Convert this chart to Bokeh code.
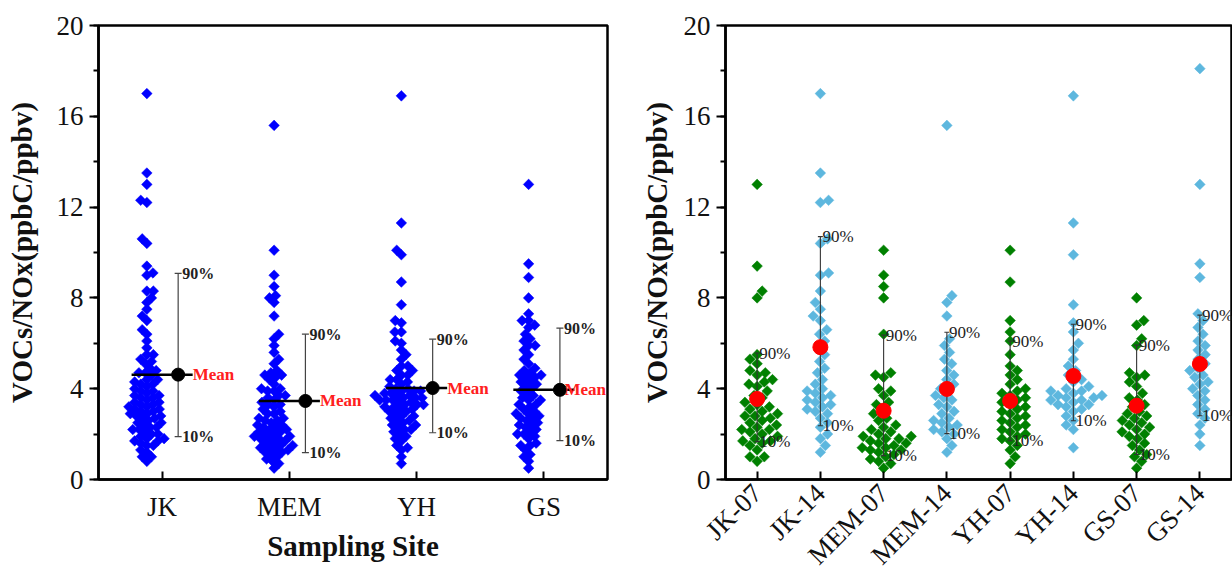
import numpy as np
from bokeh.plotting import figure
from bokeh.layouts import row
from bokeh.models import ColumnDataSource, FixedTicker, SingleIntervalTicker, Range1d
from bokeh.embed import file_html
from bokeh.resources import INLINE
from bokeh.core.properties import value

# ---------------- data ----------------
SITES = ["JK", "MEM", "YH", "GS"]
GROUPS = ["JK-07", "JK-14", "MEM-07", "MEM-14", "YH-07", "YH-14", "GS-07", "GS-14"]

JK_07 = [13.0, 9.4, 8.3, 8.0, 5.5, 5.3, 5.1, 4.8, 4.7, 4.6, 4.4, 4.3, 4.2, 4.1, 3.9, 3.7,
         3.6, 3.4, 3.3, 3.2, 3.1, 3.0, 2.9, 2.8, 2.8, 2.7, 2.6, 2.5, 2.4, 2.3, 2.2, 2.2,
         2.1, 2.0, 1.9, 1.8, 1.7, 1.7, 1.6, 1.5, 1.3, 1.0, 1.0, 0.8]
JK_14 = [17.0, 13.5, 12.3, 12.2, 10.6, 10.4, 9.1, 9.0, 8.3, 7.8, 7.5, 7.2, 7.0, 6.6, 6.4,
         6.1, 5.8, 5.5, 5.2, 4.9, 4.7, 4.4, 4.2, 4.0, 3.9, 3.8, 3.7, 3.6, 3.5, 3.4, 3.3,
         3.2, 3.1, 3.0, 2.9, 2.7, 2.5, 2.3, 2.0, 1.8, 1.5, 1.2]
MEM_07 = [10.1, 9.0, 8.5, 8.0, 6.4, 4.7, 4.6, 4.5, 4.0, 3.9, 3.7, 3.4, 3.3, 3.1, 2.9, 2.7,
          2.6, 2.4, 2.3, 2.2, 2.1, 2.0, 1.9, 1.9, 1.8, 1.8, 1.7, 1.6, 1.6, 1.5, 1.4, 1.4,
          1.3, 1.3, 1.2, 1.1, 1.0, 0.9, 0.8, 0.7, 0.5]
MEM_14 = [15.6, 8.1, 7.8, 7.2, 6.2, 5.9, 5.6, 5.3, 5.1, 4.8, 4.6, 4.4, 4.2, 4.0, 3.9, 3.7,
          3.6, 3.5, 3.3, 3.2, 3.0, 2.9, 2.7, 2.6, 2.5, 2.4, 2.3, 2.2, 2.1, 2.0, 1.8, 1.5, 1.2]
YH_07 = [10.1, 8.7, 7.0, 6.5, 6.1, 5.5, 5.0, 4.8, 4.6, 4.4, 4.2, 4.0, 3.9, 3.8, 3.7, 3.6,
         3.5, 3.4, 3.3, 3.2, 3.1, 3.0, 2.9, 2.8, 2.7, 2.6, 2.5, 2.4, 2.3, 2.2, 2.1, 2.0,
         1.9, 1.8, 1.7, 1.5, 1.3, 1.0, 0.7]
YH_14 = [16.9, 11.3, 9.9, 7.7, 6.9, 6.5, 6.0, 5.7, 5.3, 5.0, 4.8, 4.6, 4.4, 4.3, 4.1, 4.0,
         3.9, 3.9, 3.8, 3.7, 3.7, 3.6, 3.6, 3.5, 3.5, 3.4, 3.3, 3.3, 3.2, 3.1, 3.0, 2.8,
         2.6, 2.4, 2.2, 1.4]
GS_07 = [8.0, 7.0, 6.8, 6.2, 5.9, 4.7, 4.6, 4.5, 4.3, 4.1, 3.8, 3.6, 3.5, 3.3, 3.2, 3.0,
         2.9, 2.8, 2.7, 2.6, 2.5, 2.4, 2.3, 2.2, 2.1, 2.0, 1.9, 1.8, 1.6, 1.5, 1.3, 1.1,
         1.0, 0.8, 0.5]
GS_14 = [18.1, 13.0, 9.5, 8.9, 7.3, 7.0, 6.7, 6.4, 6.1, 5.9, 5.7, 5.5, 5.3, 5.1, 4.9, 4.8,
         4.6, 4.5, 4.3, 4.2, 4.0, 3.9, 3.7, 3.5, 3.3, 3.1, 2.9, 2.7, 2.4, 2.0, 1.5]

GROUP_VALUES = [JK_07, JK_14, MEM_07, MEM_14, YH_07, YH_14, GS_07, GS_14]
# left panel pools both years per site (the 18.1 GS-14 point is not shown on the left)
SITE_VALUES = [JK_07 + JK_14, MEM_07 + MEM_14, YH_07 + YH_14, GS_07 + GS_14[1:]]

SITE_MEAN = [4.62, 3.46, 4.03, 3.95]
SITE_P10 = [1.89, 1.18, 2.06, 1.71]
SITE_P90 = [9.08, 6.40, 6.18, 6.67]

GROUP_MEAN = [3.55, 5.83, 3.03, 3.99, 3.46, 4.56, 3.25, 5.09]
GROUP_P10 = [1.67, 2.37, 1.05, 2.02, 1.71, 2.59, 1.10, 2.81]
GROUP_P90 = [5.57, 10.70, 6.36, 6.49, 6.10, 6.84, 5.92, 7.24]

# ---------------- styling / layout ----------------
FONT = "Liberation Serif"
H = 583
TOP, BOTTOM = 25, 102
FRAME_H = H - TOP - BOTTOM
PX_PER_Y = FRAME_H / 20.0

W1, L1, R1 = 636, 98, 29
W2, L2, R2 = 596, 89, 1
PX_PER_X1 = (W1 - L1 - R1) / 4.0
PX_PER_X2 = (W2 - L2 - R2) / 8.0

# pixel nudges of the red "Mean" labels (the last one sits over its marker)
MEAN_LABEL_NUDGE = [0, 0, 0, -10]


def swarm(vals, d):
    """simple beeswarm: pixel x-offsets so markers (diameter d) do not overlap"""
    vals = np.asarray(vals, dtype=float)
    ys = vals * PX_PER_Y
    order = np.argsort(vals, kind="stable")
    placed = []
    out = np.zeros(len(vals))
    for k, i in enumerate(order):
        y = ys[i]
        cands = [0.0]
        near = [(xj, yj) for xj, yj in placed if abs(y - yj) < d]
        for xj, yj in near:
            dx = np.sqrt(d * d - (y - yj) ** 2)
            cands += [xj - dx, xj + dx]
        sgn = 1 if k % 2 == 0 else -1
        best = 0.0
        for c in sorted(cands, key=lambda c: (round(abs(c), 3), sgn * c)):
            if all((c - xj) ** 2 + (y - yj) ** 2 >= d * d - 1e-6 for xj, yj in near):
                best = c
                break
        placed.append((best, y))
        out[i] = best
    return out


def style(p, label_standoff):
    p.xgrid.visible = False
    p.ygrid.visible = False
    p.background_fill_color = "white"
    p.border_fill_color = "white"
    p.outline_line_color = "black"
    p.outline_line_width = 2.5
    p.outline_line_alpha = 1.0
    ax = p.yaxis[0]
    ax.ticker = SingleIntervalTicker(interval=4, num_minor_ticks=2)
    ax.axis_line_width = 2.5
    ax.major_tick_out = 9
    ax.major_tick_in = 0
    ax.minor_tick_out = 5
    ax.minor_tick_in = 0
    ax.major_tick_line_width = 2
    ax.minor_tick_line_width = 2
    ax.major_label_text_font = FONT
    ax.major_label_text_font_size = "27px"
    ax.major_label_text_color = "#111111"
    ax.major_label_standoff = 6
    ax.axis_label = "VOCs/NOx(ppbC/ppbv)"
    ax.axis_label_text_font = FONT
    ax.axis_label_text_font_style = "bold"
    ax.axis_label_text_font_size = "29px"
    ax.axis_label_text_color = "#111111"
    ax.axis_label_standoff = label_standoff
    bx = p.xaxis[0]
    bx.axis_line_width = 2.5
    bx.major_tick_in = 8
    bx.major_tick_out = 0
    bx.major_tick_line_width = 2
    bx.minor_tick_line_color = None
    bx.major_label_text_font = FONT
    bx.major_label_text_font_size = "27px"
    bx.major_label_text_color = "#111111"


# ---------------- left panel ----------------
p1 = figure(width=W1, height=H, x_range=Range1d(0.5, 4.5), y_range=Range1d(0, 20),
            output_backend="svg", toolbar_location=None,
            min_border_left=L1, min_border_right=R1, min_border_top=TOP, min_border_bottom=BOTTOM)
style(p1, 16)
p1.xaxis[0].ticker = FixedTicker(ticks=[1, 2, 3, 4])
p1.xaxis[0].major_label_overrides = {i + 1: s for i, s in enumerate(SITES)}
p1.xaxis[0].major_label_standoff = 12
p1.xaxis[0].axis_label = "Sampling Site"
p1.xaxis[0].axis_label_text_font = FONT
p1.xaxis[0].axis_label_text_font_style = "bold"
p1.xaxis[0].axis_label_text_font_size = "29px"
p1.xaxis[0].axis_label_text_color = "#111111"
p1.xaxis[0].axis_label_standoff = 5

PT_SHIFT1, BAR_SHIFT1, LINE_HALF1 = -0.12, 0.126, 0.24
xs_all, ys_all = [], []
for i, vals in enumerate(SITE_VALUES):
    off = swarm(vals, 6.5) / PX_PER_X1
    xs_all += list(i + 1 + PT_SHIFT1 + off)
    ys_all += list(vals)
p1.scatter(x=xs_all, y=ys_all, marker="square", angle=np.pi / 4, size=7.5,
           fill_color="#0000FF", line_color="#0000FF", line_width=0.5)

cx = np.arange(1, 5)
s1 = ColumnDataSource(dict(
    x=cx + BAR_SHIFT1, x0=cx - LINE_HALF1, x1=cx + LINE_HALF1,
    mean=SITE_MEAN, p10=SITE_P10, p90=SITE_P90, nudge=MEAN_LABEL_NUDGE,
    t90=["90%"] * 4, t10=["10%"] * 4, tm=["Mean"] * 4))
p1.segment(x0="x", y0="p10", x1="x", y1="p90", source=s1, line_color="#444444", line_width=1.2)
p1.scatter(x="x", y="p90", source=s1, marker="dash", size=7, line_color="#444444", line_width=1.2)
p1.scatter(x="x", y="p10", source=s1, marker="dash", size=7, line_color="#444444", line_width=1.2)
p1.segment(x0="x0", y0="mean", x1="x1", y1="mean", source=s1, line_color="black", line_width=2.5)
p1.scatter(x="x", y="mean", source=s1, marker="circle", size=13, fill_color="black", line_color="black")
p1.text(x="x", y="p90", text="t90", source=s1, x_offset=4, text_font=value(FONT),
        text_font_style="bold", text_font_size="16px", text_baseline="middle",
        text_align="left", text_color="#222222")
p1.text(x="x", y="p10", text="t10", source=s1, x_offset=4, text_font=value(FONT),
        text_font_style="bold", text_font_size="16px", text_baseline="middle",
        text_align="left", text_color="#222222")
p1.text(x="x1", y="mean", text="tm", source=s1, x_offset="nudge", text_font=value(FONT),
        text_font_style="bold", text_font_size="17px", text_baseline="middle",
        text_align="left", text_color="#FF2020")

# ---------------- right panel ----------------
p2 = figure(width=W2, height=H, x_range=Range1d(0.5, 8.5), y_range=Range1d(0, 20),
            output_backend="svg", toolbar_location=None,
            min_border_left=L2, min_border_right=R2, min_border_top=TOP, min_border_bottom=BOTTOM)
style(p2, 8)
p2.xaxis[0].ticker = FixedTicker(ticks=list(range(1, 9)))
p2.xaxis[0].major_label_overrides = {i + 1: g for i, g in enumerate(GROUPS)}
p2.xaxis[0].major_label_orientation = np.pi / 4
p2.xaxis[0].major_label_standoff = 9

COLORS = {"07": "#008000", "14": "#5DB7DE"}
for i, vals in enumerate(GROUP_VALUES):
    off = swarm(vals, 8.5) / PX_PER_X2
    col = COLORS[GROUPS[i][-2:]]
    p2.scatter(x=list(i + 1 + off), y=vals, marker="square", angle=np.pi / 4, size=7.5,
               fill_color=col, line_color=col, line_width=0.5)

gx = np.arange(1, 9)
s2 = ColumnDataSource(dict(x=gx, mean=GROUP_MEAN, p10=GROUP_P10, p90=GROUP_P90,
                           t90=["90%"] * 8, t10=["10%"] * 8))
p2.segment(x0="x", y0="p10", x1="x", y1="p90", source=s2, line_color="#333333", line_width=1.1)
p2.scatter(x="x", y="p90", source=s2, marker="dash", size=5, line_color="#333333", line_width=1.1)
p2.scatter(x="x", y="p10", source=s2, marker="dash", size=5, line_color="#333333", line_width=1.1)
p2.scatter(x="x", y="mean", source=s2, marker="circle", size=15, fill_color="#FF0000", line_color="#FF0000")
p2.text(x="x", y="p90", text="t90", source=s2, x_offset=2, text_font=value(FONT),
        text_font_size="17px", text_baseline="middle", text_align="left", text_color="#222222")
p2.text(x="x", y="p10", text="t10", source=s2, x_offset=2, text_font=value(FONT),
        text_font_size="17px", text_baseline="middle", text_align="left", text_color="#222222")

layout = row(p1, p2)
open("out.html", "w").write(file_html(layout, INLINE))
